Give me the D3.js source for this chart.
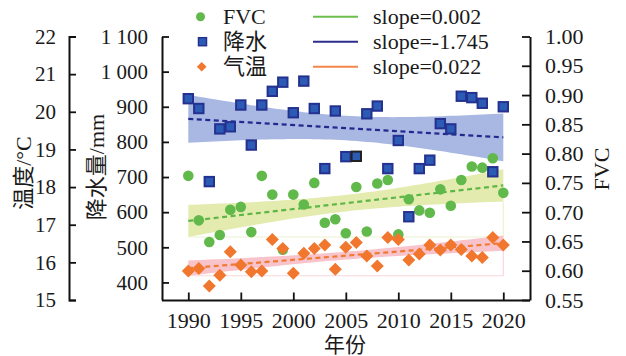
<!DOCTYPE html>
<html><head><meta charset="utf-8">
<script src="https://cdn.jsdelivr.net/npm/d3@7"></script>
<style>
body{margin:0;background:#fff;}
svg text{font-family:"Liberation Serif","Noto Sans CJK SC",serif;fill:#1a1a1a;}
</style></head>
<body><svg id="c" width="626" height="356"></svg>
<script>
const years = d3.range(1990, 2021);
const fvc = [0.762,0.686,0.649,0.661,0.704,0.709,0.666,0.762,0.730,0.636,0.730,0.713,0.750,0.682,0.688,0.664,0.743,0.667,0.749,0.755,0.662,0.722,0.703,0.699,0.739,0.711,0.755,0.778,0.776,0.792,0.733];
const precip = [923,895,687,837,843,905,791,905,944,970,883,973,895,724,888,758,759,880,902,724,804,587,724,748,852,837,930,926,910,715,900];
const temp = [15.77,15.84,15.37,15.66,16.28,15.93,15.75,15.77,16.61,16.37,15.71,16.24,16.37,16.46,15.82,16.40,16.53,16.17,15.90,16.66,16.61,16.06,16.22,16.46,16.33,16.46,16.34,16.17,16.13,16.66,16.46];
const xTicks = [1990,1995,2000,2005,2010,2015,2020];
const tempTicks = [15,16,17,18,19,20,21,22];
const precipTicks = [400,500,600,700,800,900,1000,1100];
const fvcTicks = [0.55,0.60,0.65,0.70,0.75,0.80,0.85,0.90,0.95,1.00];
const legendNames = ["FVC","降水","气温"];
const slopeLabels = ["slope=0.002","slope=-1.745","slope=0.022"];

const svg = d3.select("#c");
const x = d3.scaleLinear().domain([1990,2020]).range([188.3,503.3]);
const yT = d3.scaleLinear().domain([15,22]).range([300,36.5]);
const yP = d3.scaleLinear().domain([350,1100]).range([300,36.5]);
const yF = d3.scaleLinear().domain([0.55,1.00]).range([300,36.5]);

function regress(xs, ys){
  const n = xs.length, xb = d3.mean(xs), yb = d3.mean(ys);
  let sxx=0, sxy=0;
  xs.forEach((v,i)=>{sxx+=(v-xb)*(v-xb); sxy+=(v-xb)*(ys[i]-yb);});
  const b = sxy/sxx, a = yb - b*xb;
  let sse=0; xs.forEach((v,i)=>{const r=ys[i]-(a+b*v); sse+=r*r;});
  const s = Math.sqrt(sse/(n-2)), t = 2.045;
  const f = v => a+b*v;
  const ci = v => t*s*Math.sqrt(1/n + (v-xb)*(v-xb)/sxx);
  return {f, ci};
}

const series = [
  {vals: fvc, y: yF, band:"#e4ebae", edge:"#eef2cf", bbox:true, line:"#5db746", leg:"#6cbf4e"},
  {vals: precip, y: yP, band:"#a9b8e2", edge:null, bbox:false, line:"#232a8f", leg:"#2a2e8c"},
  {vals: temp, y: yT, band:"#f8c3cb", edge:"#fad6dc", bbox:true, line:"#ef7a33", leg:"#f4864a"}
];
const grid = d3.range(1990, 2020.01, 0.5);

// bands
series.forEach(s=>{
  const r = regress(years, s.vals);
  s.reg = r;
  const area = d3.area().x(d=>x(d)).y0(d=>s.y(r.f(d)-r.ci(d))).y1(d=>s.y(r.f(d)+r.ci(d)));
  svg.append("path").attr("d", area(grid)).attr("fill", s.band);
  if (s.bbox){
    const lo = r.f(1990)-r.ci(1990), hiR = r.f(2020)-r.ci(2020);
    svg.append("path")
      .attr("d", `M${x(1990)},${s.y(lo)}H${x(2020)}V${s.y(hiR)}`)
      .attr("fill","none").attr("stroke", s.edge).attr("stroke-width",1.2);
  }
});
// trend lines
series.forEach(s=>{
  svg.append("line").attr("x1",x(1990)).attr("x2",x(2020))
    .attr("y1", s.y(s.reg.f(1990))).attr("y2", s.y(s.reg.f(2020)))
    .attr("stroke", s.line).attr("stroke-width",2.2).attr("stroke-dasharray","5,3.5");
});

// markers
const diamond = (cx,cy,h)=>`M${cx},${cy-h}L${cx+h},${cy}L${cx},${cy+h}L${cx-h},${cy}Z`;
svg.append("g").selectAll("circle").data(years).join("circle")
  .attr("cx", d=>x(d)).attr("cy", (d,i)=>yF(fvc[i])).attr("r",5.3).attr("fill","#60b94a");
svg.append("g").selectAll("rect").data(years).join("rect")
  .attr("x", d=>x(d)-4.7).attr("y",(d,i)=>yP(precip[i])-4.7).attr("width",9.4).attr("height",9.4)
  .attr("fill","#2c5bb6").attr("stroke", d=>d===2006?"#222":"#25318f").attr("stroke-width",2);
svg.append("g").selectAll("path").data(years).join("path")
  .attr("d",(d,i)=>diamond(x(d), yT(temp[i]), 6.5)).attr("fill","#f0772d");

// axes
const ax = g => g.call(s=>s.selectAll(".domain").attr("stroke","#111").attr("stroke-width",2))
  .call(s=>s.selectAll(".tick line").attr("stroke","#111").attr("stroke-width",1.8));
const txt = (sel, fs) => sel.selectAll("text").attr("font-size",fs).attr("font-family","Liberation Serif").attr("fill","#1a1a1a");
svg.append("g").attr("transform","translate(0,300.5)")
  .call(d3.axisBottom(x).tickValues(xTicks).tickFormat(d3.format("d")).tickSizeInner(-8).tickSizeOuter(0).tickPadding(12))
  .call(ax).call(g=>g.select(".domain").attr("d",`M162,0H530`))
  .call(g=>txt(g,22));
svg.append("g").attr("transform","translate(162,0)")
  .call(d3.axisLeft(yP).tickValues(precipTicks).tickFormat(d=>d>=1000?d3.format(",")(d).replace(","," "):d).tickSizeInner(-7).tickSizeOuter(0).tickPadding(14))
  .call(ax).call(g=>txt(g,21));
svg.append("g").attr("transform","translate(69,0)")
  .call(d3.axisLeft(yT).tickValues(tempTicks).tickFormat(d3.format("d")).tickSizeInner(-7).tickSizeOuter(-7).tickPadding(13))
  .call(ax).call(g=>txt(g,21));
svg.append("g").attr("transform","translate(530,0)")
  .call(d3.axisRight(yF).tickValues(fvcTicks).tickFormat(d3.format(".2f")).tickSizeInner(-8).tickSizeOuter(0).tickPadding(15))
  .call(ax).call(g=>txt(g,22));

// titles
svg.append("text").attr("transform","translate(31,173) rotate(-90)").attr("text-anchor","middle").attr("font-size",22).text("温度/°C");
svg.append("text").attr("transform","translate(104,167) rotate(-90)").attr("text-anchor","middle").attr("font-size",22).text("降水量/mm");
svg.append("text").attr("transform","translate(609,169) rotate(-90)").attr("text-anchor","middle").attr("font-size",22).text("FVC");
svg.append("text").attr("x",345).attr("y",352).attr("text-anchor","middle").attr("font-size",21).text("年份");

// legend
const ly = [16.7,41.7,66.7];
svg.append("circle").attr("cx",200.5).attr("cy",ly[0]).attr("r",4.5).attr("fill","#60b94a");
svg.append("rect").attr("x",198.5).attr("y",ly[1]-4).attr("width",8).attr("height",8).attr("fill","#2c5bb6").attr("stroke","#25318f").attr("stroke-width",1.5);
svg.append("path").attr("d",diamond(201.7,ly[2],4.8)).attr("fill","#f0772d");
legendNames.forEach((t,i)=>{
  svg.append("text").attr("x",223).attr("y",ly[i]).attr("dy","0.35em").attr("font-size",22).text(t);
  svg.append("line").attr("x1",313).attr("x2",358).attr("y1",ly[i]).attr("y2",ly[i]).attr("stroke",series[i].leg).attr("stroke-width",2);
  svg.append("text").attr("x",373).attr("y",ly[i]).attr("dy","0.35em").attr("font-size",22).text(slopeLabels[i]);
});
</script></body></html>
